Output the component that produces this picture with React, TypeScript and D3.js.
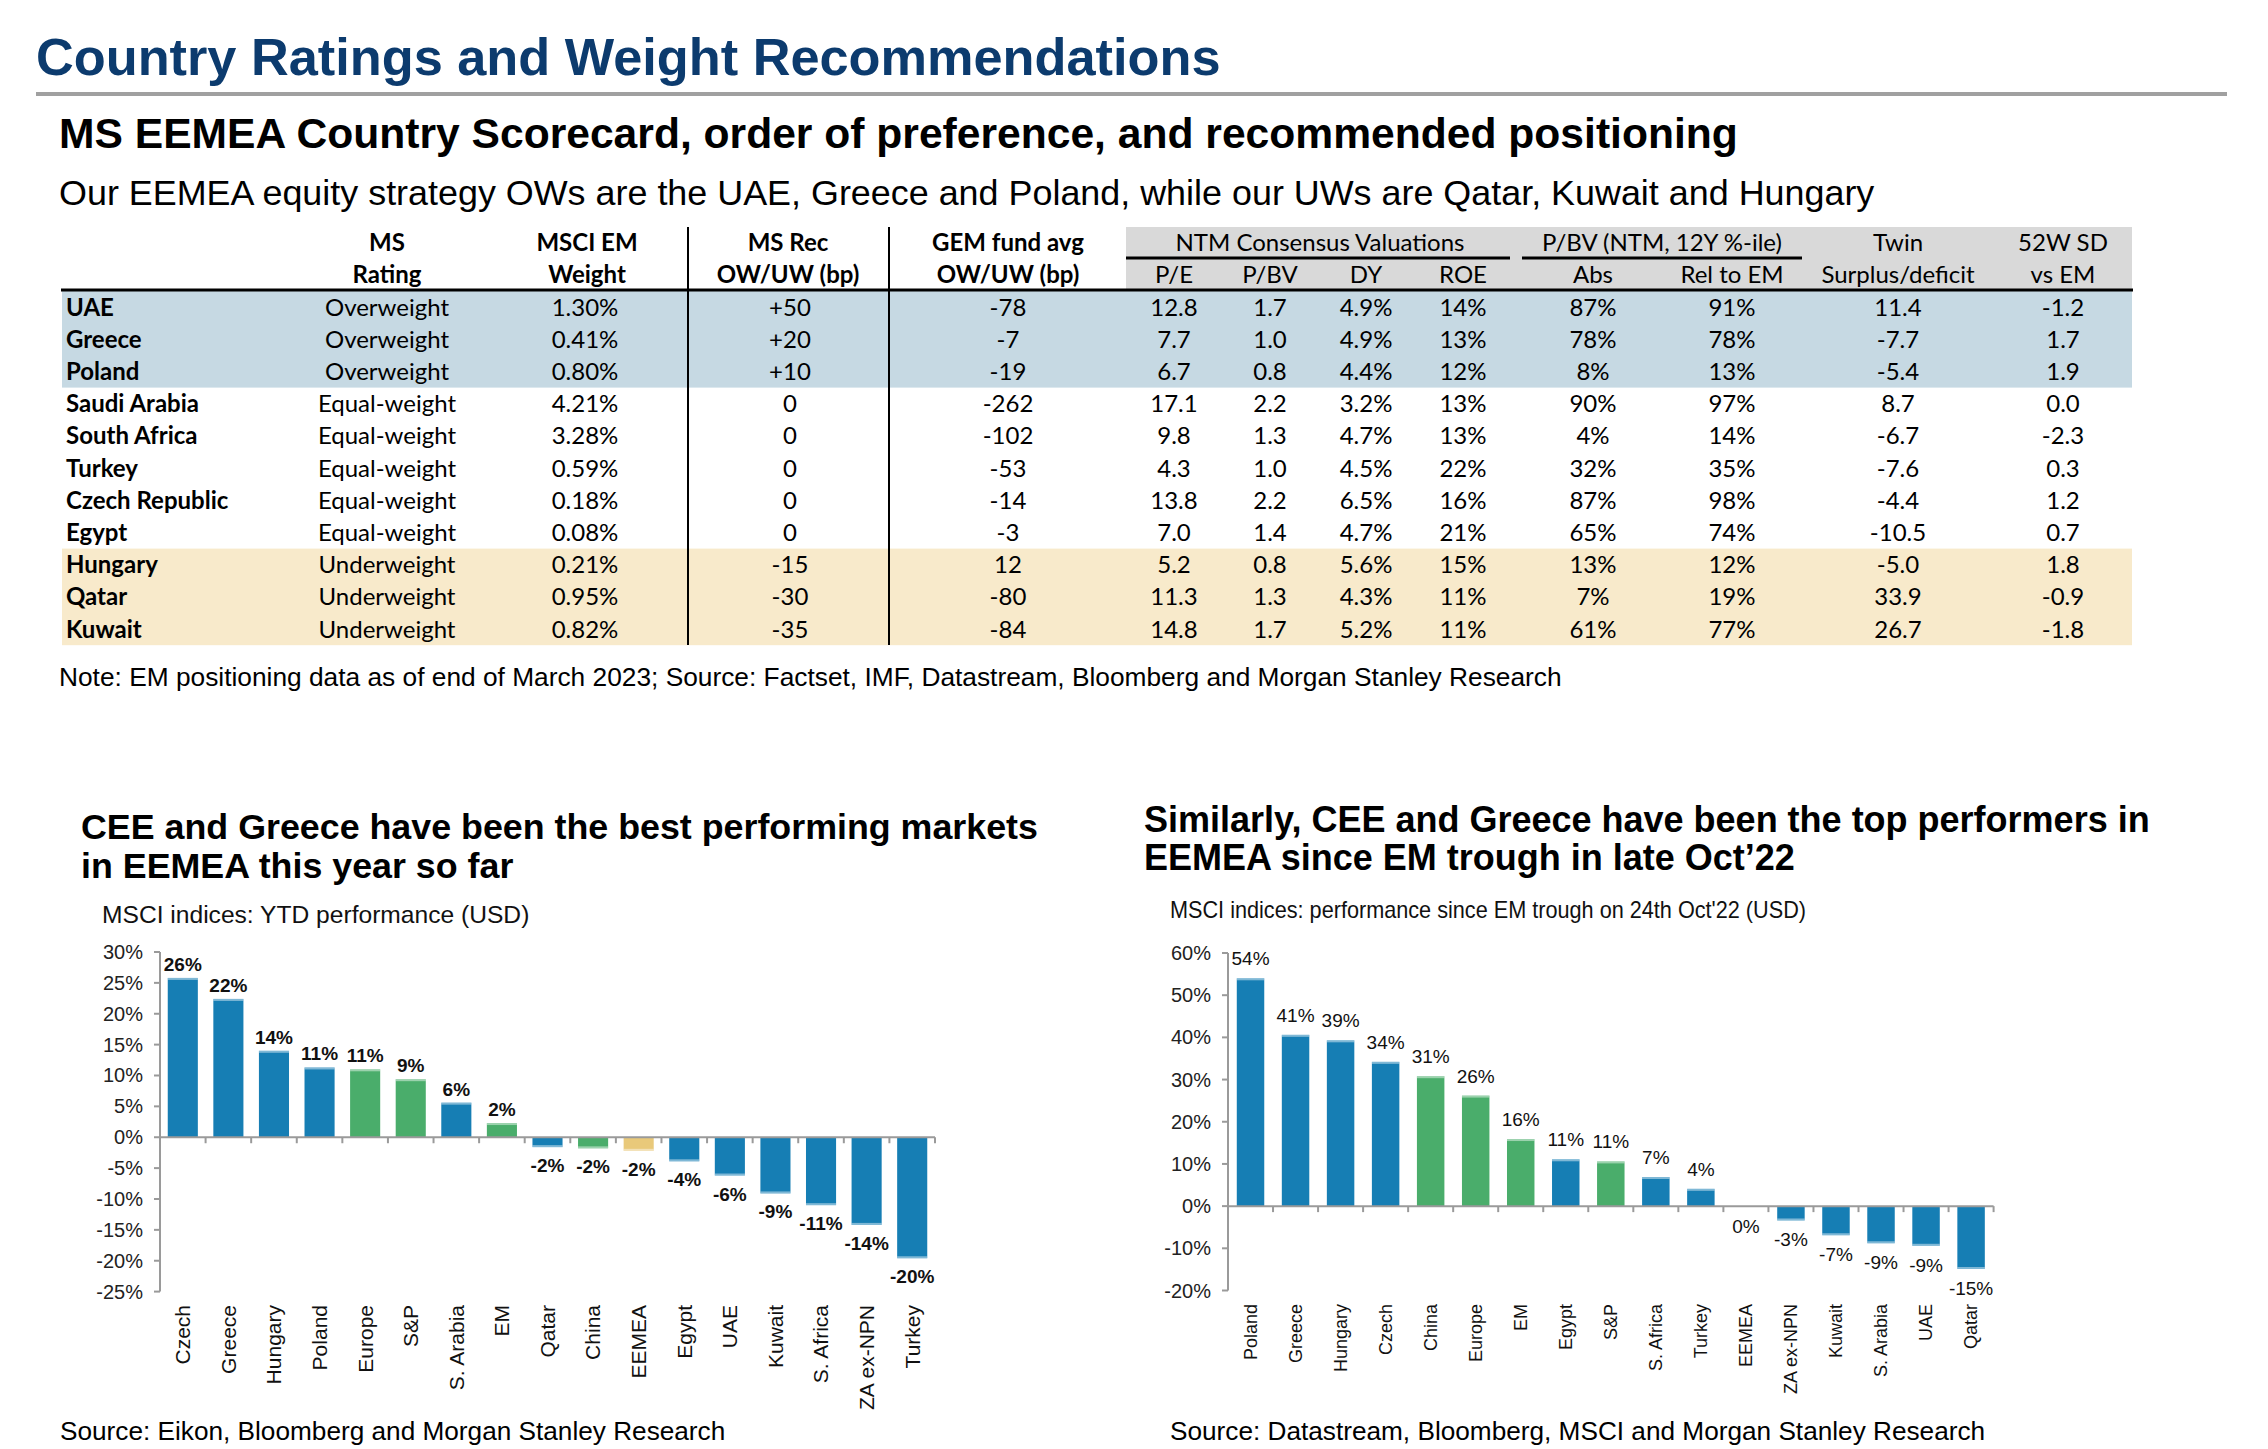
import React from "react";
import * as d3 from "d3";

// ---------- Table data ----------
const countries = ["UAE", "Greece", "Poland", "Saudi Arabia", "South Africa", "Turkey", "Czech Republic", "Egypt", "Hungary", "Qatar", "Kuwait"];
const ratings = ["Overweight", "Overweight", "Overweight", "Equal-weight", "Equal-weight", "Equal-weight", "Equal-weight", "Equal-weight", "Underweight", "Underweight", "Underweight"];
const msciWeight = ["1.30%", "0.41%", "0.80%", "4.21%", "3.28%", "0.59%", "0.18%", "0.08%", "0.21%", "0.95%", "0.82%"];
const msRec = ["+50", "+20", "+10", "0", "0", "0", "0", "0", "-15", "-30", "-35"];
const gemFund = ["-78", "-7", "-19", "-262", "-102", "-53", "-14", "-3", "12", "-80", "-84"];
const pe = ["12.8", "7.7", "6.7", "17.1", "9.8", "4.3", "13.8", "7.0", "5.2", "11.3", "14.8"];
const pbv = ["1.7", "1.0", "0.8", "2.2", "1.3", "1.0", "2.2", "1.4", "0.8", "1.3", "1.7"];
const dy = ["4.9%", "4.9%", "4.4%", "3.2%", "4.7%", "4.5%", "6.5%", "4.7%", "5.6%", "4.3%", "5.2%"];
const roe = ["14%", "13%", "12%", "13%", "13%", "22%", "16%", "21%", "15%", "11%", "11%"];
const pbvAbs = ["87%", "78%", "8%", "90%", "4%", "32%", "87%", "65%", "13%", "7%", "61%"];
const pbvRel = ["91%", "78%", "13%", "97%", "14%", "35%", "98%", "74%", "12%", "19%", "77%"];
const twin = ["11.4", "-7.7", "-5.4", "8.7", "-6.7", "-7.6", "-4.4", "-10.5", "-5.0", "33.9", "26.7"];
const sd52 = ["-1.2", "1.7", "1.9", "0.0", "-2.3", "0.3", "1.2", "0.7", "1.8", "-0.9", "-1.8"];

// ---------- Left chart data ----------
const ytdCategories = ["Czech", "Greece", "Hungary", "Poland", "Europe", "S&P", "S. Arabia", "EM", "Qatar", "China", "EEMEA", "Egypt", "UAE", "Kuwait", "S. Africa", "ZA ex-NPN", "Turkey"];
const ytdValues = [25.8, 22.4, 14.0, 11.3, 11.0, 9.4, 5.6, 2.3, -1.6, -1.8, -2.2, -3.9, -6.2, -9.1, -11.0, -14.2, -19.6];
const ytdGroups = ["b", "b", "b", "b", "g", "g", "b", "g", "b", "g", "y", "b", "b", "b", "b", "b", "b"];
const ytdTicks = [-25, -20, -15, -10, -5, 0, 5, 10, 15, 20, 25, 30];

// ---------- Right chart data ----------
const troughCategories = ["Poland", "Greece", "Hungary", "Czech", "China", "Europe", "EM", "Egypt", "S&P", "S. Africa", "Turkey", "EEMEA", "ZA ex-NPN", "Kuwait", "S. Arabia", "UAE", "Qatar"];
const troughValues = [54.0, 40.6, 39.3, 34.2, 30.8, 26.2, 15.9, 11.1, 10.6, 6.9, 4.1, -0.2, -3.4, -6.9, -8.8, -9.4, -14.9];
const troughGroups = ["b", "b", "b", "b", "g", "g", "g", "b", "g", "b", "b", "y", "b", "b", "b", "b", "b"];
const troughTicks = [-20, -10, 0, 10, 20, 30, 40, 50, 60];

const COLORS: Record<string, string> = { b: "#167EB4", g: "#4AAD6B", y: "#E9C97A" };
const ARIAL = "'Liberation Sans', Arial, sans-serif";
const CAL = "Lato, 'Open Sans', sans-serif";

const fmtPct = (v: number) => {
  const r = Math.round(Math.abs(v)) * Math.sign(v);
  return `${r === 0 ? 0 : r}%`;
};

type ChartProps = {
  categories: string[];
  values: number[];
  groups: string[];
  ticks: number[];
  x0: number;
  x1: number;
  yTop: number;
  yBottom: number;
  padding: number;
  labelBold: boolean;
  labelSize: number;
  posOffset: number;
  negOffset: number;
  catSize: number;
  catTop: number;
};

function BarChart(p: ChartProps) {
  const x = d3.scaleBand<string>().domain(p.categories).range([p.x0, p.x1]).paddingInner(p.padding).paddingOuter(p.padding / 2);
  const xb = d3.scaleBand<string>().domain(p.categories).range([p.x0, p.x1]);
  const ext = d3.extent(p.ticks) as [number, number];
  const y = d3.scaleLinear().domain(ext).range([p.yBottom, p.yTop]);
  const y0 = y(0);
  const axisColor = "#9A9A9A";
  return (
    <g>
      <line x1={p.x0} x2={p.x0} y1={y(ext[1])} y2={y(ext[0])} stroke={axisColor} strokeWidth={2} />
      {p.ticks.map((t) => (
        <g key={t}>
          <line x1={p.x0 - 6} x2={p.x0} y1={y(t)} y2={y(t)} stroke={axisColor} strokeWidth={2} />
          <text x={p.x0 - 17} y={y(t)} dy="0.35em" textAnchor="end" fontFamily={ARIAL} fontSize={20} fill="#222">
            {`${t}%`}
          </text>
        </g>
      ))}
      {p.categories.map((c, i) => {
        const v = p.values[i];
        const top = Math.min(y(v), y0);
        const h = Math.abs(y(v) - y0);
        const bx = x(c)!;
        const bw = x.bandwidth();
        const edgeY = v >= 0 ? top : top + h - 2;
        return (
          <g key={c}>
            <rect x={bx} y={top} width={bw} height={Math.max(h, 0.5)} fill={COLORS[p.groups[i]]} />
            {h > 3 && <rect x={bx} y={edgeY} width={bw} height={2} fill="#ffffff" opacity={0.45} />}
            <text
              x={bx + bw / 2}
              y={v >= 0 ? y(v) - p.posOffset : y(v) + p.negOffset}
              textAnchor="middle"
              fontFamily={ARIAL}
              fontWeight={p.labelBold ? 700 : 400}
              fontSize={p.labelSize}
              fill="#111"
            >
              {fmtPct(v)}
            </text>
            <text
              transform={`translate(${xb(c)! + xb.bandwidth() / 2},${p.catTop}) rotate(-90)`}
              textAnchor="end"
              dy="0.35em"
              fontFamily={ARIAL}
              fontSize={p.catSize}
              fill="#111"
            >
              {c}
            </text>
          </g>
        );
      })}
      <line x1={p.x0} x2={p.x1} y1={y0} y2={y0} stroke={axisColor} strokeWidth={2} />
      {d3.range(p.categories.length + 1).map((i) => {
        const xx = p.x0 + i * xb.step();
        return <line key={i} x1={xx} x2={xx} y1={y0} y2={y0 + 6} stroke={axisColor} strokeWidth={2} />;
      })}
    </g>
  );
}

function Table() {
  const rows = d3.scaleBand<string>().domain(countries).range([291, 291 + 11 * 32.2]);
  const cy = (c: string) => rows(c)! + rows.bandwidth() / 2;
  const cols: { x: number; data: string[] }[] = [
    { x: 387, data: ratings },
    { x: 585, data: msciWeight },
    { x: 790, data: msRec },
    { x: 1008, data: gemFund },
    { x: 1174, data: pe },
    { x: 1270, data: pbv },
    { x: 1366, data: dy },
    { x: 1463, data: roe },
    { x: 1593, data: pbvAbs },
    { x: 1732, data: pbvRel },
    { x: 1898, data: twin },
    { x: 2063, data: sd52 },
  ];
  const head1L = [
    { x: 387, t: "MS" },
    { x: 587, t: "MSCI EM" },
    { x: 788, t: "MS Rec" },
    { x: 1008, t: "GEM fund avg" },
  ];
  const head2L = [
    { x: 387, t: "Rating" },
    { x: 587, t: "Weight" },
    { x: 788, t: "OW/UW (bp)" },
    { x: 1008, t: "OW/UW (bp)" },
  ];
  const head1R = [
    { x: 1320, t: "NTM Consensus Valuations" },
    { x: 1662, t: "P/BV (NTM, 12Y %-ile)" },
    { x: 1898, t: "Twin" },
    { x: 2063, t: "52W SD" },
  ];
  const head2R = [
    { x: 1174, t: "P/E" },
    { x: 1270, t: "P/BV" },
    { x: 1366, t: "DY" },
    { x: 1463, t: "ROE" },
    { x: 1593, t: "Abs" },
    { x: 1732, t: "Rel to EM" },
    { x: 1898, t: "Surplus/deficit" },
    { x: 2063, t: "vs EM" },
  ];
  const topBlue = rows(countries[0])!;
  const botBlue = rows(countries[2])! + rows.bandwidth();
  const topYel = rows(countries[8])!;
  const botYel = rows(countries[10])! + rows.bandwidth();
  return (
    <g fontFamily={CAL} fontSize={24} fill="#000">
      <rect x={1126} y={227} width={2132 - 1126} height={63} fill="#D9D9D9" />
      <rect x={62} y={topBlue} width={2132 - 62} height={botBlue - topBlue} fill="#C6D9E3" />
      <rect x={62} y={topYel} width={2132 - 62} height={botYel - topYel} fill="#F8EACB" />
      <line x1={1126} x2={1510} y1={258} y2={258} stroke="#000" strokeWidth={3} />
      <line x1={1522} x2={1802} y1={258} y2={258} stroke="#000" strokeWidth={3} />
      <line x1={61} x2={2133} y1={290} y2={290} stroke="#000" strokeWidth={3} />
      <line x1={688} x2={688} y1={227} y2={645} stroke="#000" strokeWidth={2} />
      <line x1={889} x2={889} y1={227} y2={645} stroke="#000" strokeWidth={2} />
      {head1L.map((h) => (
        <text key={"a" + h.x} x={h.x} y={243} dy="0.35em" textAnchor="middle" fontWeight={700}>{h.t}</text>
      ))}
      {head2L.map((h, i) => (
        <text key={"b" + i} x={h.x} y={275} dy="0.35em" textAnchor="middle" fontWeight={700}>{h.t}</text>
      ))}
      {head1R.map((h) => (
        <text key={"c" + h.x} x={h.x} y={243} dy="0.35em" textAnchor="middle">{h.t}</text>
      ))}
      {head2R.map((h) => (
        <text key={"d" + h.x} x={h.x} y={275} dy="0.35em" textAnchor="middle">{h.t}</text>
      ))}
      {countries.map((c, i) => (
        <g key={c}>
          <text x={66} y={cy(c)} dy="0.35em" fontWeight={700}>{c}</text>
          {cols.map((col) => (
            <text key={col.x} x={col.x} y={cy(c)} dy="0.35em" textAnchor="middle">{col.data[i]}</text>
          ))}
        </g>
      ))}
    </g>
  );
}

export default function App() {
  return (
    <svg width={2268} height={1449} style={{ position: "absolute", left: 0, top: 0, background: "#fff" }}>
      <rect width={2268} height={1449} fill="#fff" />
      <text x={36} y={75} fontFamily={ARIAL} fontWeight={700} fontSize={52.3} fill="#0C3B6E">
        Country Ratings and Weight Recommendations
      </text>
      <line x1={36} x2={2227} y1={94} y2={94} stroke="#A0A0A0" strokeWidth={4} />
      <text x={59} y={148} fontFamily={ARIAL} fontWeight={700} fontSize={42.6} fill="#000">
        MS EEMEA Country Scorecard, order of preference, and recommended positioning
      </text>
      <text x={59} y={205} fontFamily={ARIAL} fontSize={35.9} fill="#000">
        Our EEMEA equity strategy OWs are the UAE, Greece and Poland, while our UWs are Qatar, Kuwait and Hungary
      </text>
      <Table />
      <text x={59} y={686} fontFamily={ARIAL} fontSize={26.3} fill="#000">
        Note: EM positioning data as of end of March 2023; Source: Factset, IMF, Datastream, Bloomberg and Morgan Stanley Research
      </text>

      {/* Left chart */}
      <text fontFamily={ARIAL} fontWeight={700} fontSize={35.8} fill="#000">
        <tspan x={81} y={839}>CEE and Greece have been the best performing markets</tspan>
        <tspan x={81} y={878}>in EEMEA this year so far</tspan>
      </text>
      <text x={102} y={923} fontFamily={ARIAL} fontSize={24.6} fill="#111">MSCI indices: YTD performance (USD)</text>
      <BarChart
        categories={ytdCategories}
        values={ytdValues}
        groups={ytdGroups}
        ticks={ytdTicks}
        x0={160}
        x1={935}
        yTop={952}
        yBottom={1291.6}
        padding={0.34}
        labelBold={true}
        labelSize={19}
        posOffset={7}
        negOffset={25}
        catSize={21}
        catTop={1305}
      />
      <text x={60} y={1440} fontFamily={ARIAL} fontSize={26.2} fill="#000">Source: Eikon, Bloomberg and Morgan Stanley Research</text>

      {/* Right chart */}
      <text fontFamily={ARIAL} fontWeight={700} fontSize={36} fill="#000">
        <tspan x={1144} y={832}>Similarly, CEE and Greece have been the top performers in</tspan>
        <tspan x={1144} y={870}>EEMEA since EM trough in late Oct’22</tspan>
      </text>
      <text x={1170} y={918} fontFamily={ARIAL} fontSize={24} fill="#111" textLength={636} lengthAdjust="spacingAndGlyphs">
        MSCI indices: performance since EM trough on 24th Oct'22 (USD)
      </text>
      <BarChart
        categories={troughCategories}
        values={troughValues}
        groups={troughGroups}
        ticks={troughTicks}
        x0={1228}
        x1={1993.6}
        yTop={953}
        yBottom={1290.5}
        padding={0.39}
        labelBold={false}
        labelSize={19}
        posOffset={13}
        negOffset={26}
        catSize={18}
        catTop={1304}
      />
      <text x={1170} y={1440} fontFamily={ARIAL} fontSize={26.2} fill="#000">Source: Datastream, Bloomberg, MSCI and Morgan Stanley Research</text>
    </svg>
  );
}
